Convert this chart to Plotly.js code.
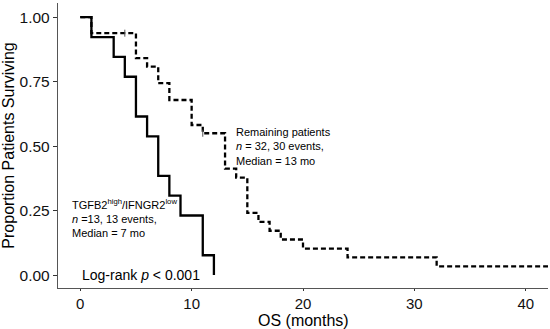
<!DOCTYPE html>
<html><head><meta charset="utf-8">
<script src="https://cdn.plot.ly/plotly-3.0.1.min.js"></script>
<style>body{margin:0;padding:0;background:#fff}#chart{width:550px;height:329px}</style>
</head><body><div id="chart"></div>
<script>
// TGFB2 high / IFNGR2 low group (n = 13)
const tgfTime = [0, 1, 3, 4, 5, 6, 7, 8, 9, 11, 12];
const tgfSurv = [1, 0.923, 0.846, 0.769, 0.615, 0.538, 0.385, 0.308, 0.231, 0.077, 0];
// Remaining patients (n = 32)
const remTime = [0, 1, 5, 6, 7, 8, 10, 11, 13, 14, 15, 16, 17, 18, 20, 24, 32, 42];
const remSurv = [1, 0.938, 0.841, 0.808, 0.744, 0.679, 0.582, 0.55, 0.413, 0.378, 0.241, 0.206, 0.172, 0.138, 0.103, 0.069, 0.034, 0.034];
// censor marks (remaining patients)
const censTime = [4, 11];
const censSurv = [0.938, 0.55];
const xTicks = [0, 10, 20, 30, 40];
const yTicks = [0, 0.25, 0.5, 0.75, 1];
const yTickText = ["0.00", "0.25", "0.50", "0.75", "1.00"];

const traces = [
  {x: remTime, y: remSurv, mode: 'lines', line: {shape: 'hv', color: '#000', width: 2.3, dash: '5px,3px'}, hoverinfo: 'skip'},
  {x: censTime, y: censSurv, mode: 'markers', marker: {symbol: 'line-ns-open', size: 5, color: '#555', line: {width: 1, color: '#555'}}, hoverinfo: 'skip'},
  {x: tgfTime, y: tgfSurv, mode: 'lines', line: {shape: 'hv', color: '#000', width: 2.3}, hoverinfo: 'skip'}
];

const layout = {
  width: 550, height: 329,
  margin: {l: 58, r: 2, t: 3, b: 41},
  showlegend: false,
  paper_bgcolor: '#fff', plot_bgcolor: '#fff',
  font: {family: 'Liberation Sans, Arial, sans-serif', color: '#000'},
  xaxis: {
    range: [-2, 42], tickvals: xTicks, ticks: 'outside', ticklen: 2, tickcolor: '#333',
    showline: true, linecolor: '#555', linewidth: 1.2, showgrid: false, zeroline: false,
    tickfont: {size: 15, color: '#111'}
  },
  yaxis: {
    range: [-0.05, 1.055], tickvals: yTicks, ticktext: yTickText, ticks: 'outside', ticklen: 4, tickcolor: '#333',
    showline: true, linecolor: '#555', linewidth: 1.2, showgrid: false, zeroline: false,
    tickfont: {size: 15.5, color: '#111'},
    title: {text: 'Proportion Patients Surviving', font: {size: 16, color: '#000'}, standoff: 3}
  },
  annotations: [
    {x: 0.5, y: -0.113, xref: 'paper', yref: 'paper', xanchor: 'center', yanchor: 'middle', showarrow: false,
     text: 'OS (months)', font: {size: 16, color: '#000'}},
    {x: 13.8, y: 0.586, xref: 'x', yref: 'y', xanchor: 'left', yanchor: 'top', align: 'left', showarrow: false,
     text: 'Remaining patients<br><i>n</i> = 32, 30 events,<br>Median = 13 mo', font: {size: 11, color: '#000'}},
    {x: -0.95, y: 0.31, xref: 'x', yref: 'y', xanchor: 'left', yanchor: 'top', align: 'left', showarrow: false,
     text: 'TGFB2<sup>high</sup>/IFNGR2<sup>low</sup><br><i>n</i> =13, 13 events,<br>Median = 7 mo', font: {size: 11, color: '#000'}},
    {x: -0.05, y: 0.0, xref: 'x', yref: 'y', xanchor: 'left', yanchor: 'middle', showarrow: false,
     text: 'Log-rank <i>p</i> < 0.001', font: {size: 14, color: '#000'}}
  ]
};
Plotly.newPlot('chart', traces, layout, {staticPlot: true, displayModeBar: false});
</script></body></html>
